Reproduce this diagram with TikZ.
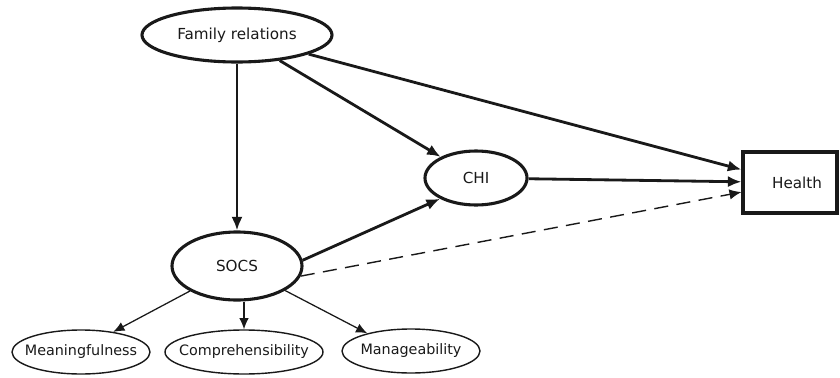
\documentclass[tikz,border=0pt]{standalone}
\usepackage{fontspec}
\setmainfont{DejaVu Sans}
\usepackage{xcolor}
\usepackage{tikz}
\usetikzlibrary{arrows.meta,shapes.geometric}
\definecolor{inkgray}{RGB}{25,25,25}

\begin{document}
\begin{tikzpicture}[
  every node/.style={font=\fontsize{10.8}{12}\selectfont, text=inkgray, inner sep=0pt},
  latent/.style={ellipse, draw=inkgray, line width=2.2pt},
  facet/.style={ellipse, draw=inkgray, line width=1pt, inner xsep=-0.45cm, minimum width=3.45cm, minimum height=1.1cm, font=\fontsize{10.2}{12}\selectfont},
  path/.style={-{Latex[length=3.4mm, width=2.8mm]}, line width=2pt, color=inkgray},
  subpath/.style={-{Latex[length=2.8mm, width=2.4mm]}, line width=0.9pt, color=inkgray}]
\useasboundingbox (0,0) rectangle (21,9.425);
% latent variables
\node[latent, minimum width=4.75cm, minimum height=1.35cm] (family) at (5.925,8.55) {Family relations};
\node[latent, minimum width=2.55cm, minimum height=1.35cm] (chi) at (11.9,4.975) {CHI};
\node[latent, minimum width=3.25cm, minimum height=1.7cm] (socs) at (5.925,2.775) {SOCS};
\node[draw=inkgray, line width=2.2pt, minimum width=2.35cm, minimum height=1.525cm, text width=1.6cm, align=right] (health) at (19.75,4.8625) {Health};
% SOC components
\node[facet] (mean) at (2.025,0.625) {Meaningfulness};
\node[facet, minimum width=3.95cm] (comp) at (6.1,0.625) {Comprehensibility};
\node[facet] (manage) at (10.275,0.65) {Manageability};
% paths
\draw[path] (family) -- (socs);
\draw[path] (family) -- (chi);
\draw[path] (family) -- (health);
\draw[path] (chi) -- (health);
\draw[path] (socs.5) -- (chi.210);
\draw[-{Latex[length=3mm, width=2.6mm]}, line width=1pt, color=inkgray, dash pattern=on 10pt off 6pt] (socs.-9) -- ([yshift=-0.24cm]health.west);
\draw[subpath] (socs.208) -- (mean.32);
\draw[subpath] (socs.south -| comp.north) -- (comp.north);
\draw[subpath] (socs.-27) -- (manage.158);
\end{tikzpicture}
\end{document}
